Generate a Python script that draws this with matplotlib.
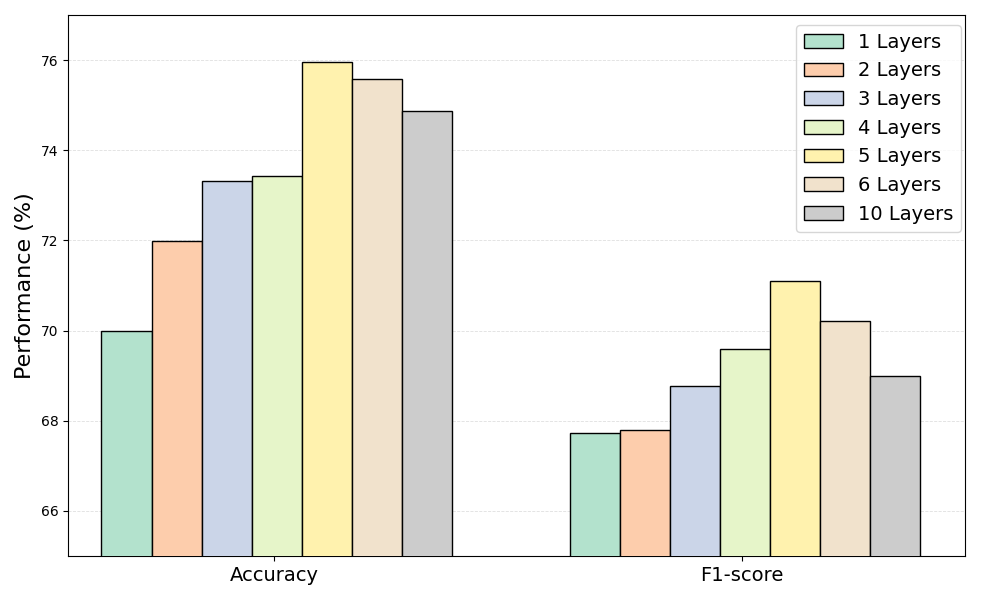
import matplotlib
matplotlib.use('Agg')
import matplotlib.pyplot as plt
import numpy as np

metrics = ['Accuracy', 'F1-score']
layers = ['1 Layers', '2 Layers', '3 Layers', '4 Layers', '5 Layers', '6 Layers', '10 Layers']
accuracy = [69.98, 71.98, 73.31, 73.43, 75.96, 75.58, 74.87]
f1_score = [67.72, 67.80, 68.77, 69.59, 71.11, 70.21, 69.00]
colors = ['#b3e2cd', '#fdcdac', '#cbd5e8', '#e6f5c9', '#fff2ae', '#f1e2cc', '#cccccc']

fig, ax = plt.subplots(figsize=(10, 6), dpi=100)
fig.subplots_adjust(left=0.068, right=0.965, top=0.975, bottom=0.0733)

x = np.arange(len(metrics))
width = 0.107
for i in range(len(layers)):
    vals = [accuracy[i], f1_score[i]]
    ax.bar(x + (i - 3) * width, vals, width, color=colors[i],
           edgecolor='black', linewidth=1, label=layers[i], zorder=3)

ax.set_ylim(65, 77)
ax.set_xlim(-0.446, 1.4705)
ax.set_xticks(x - 0.006)
ax.set_xticklabels(metrics, fontsize=14)
ax.set_yticks([66, 68, 70, 72, 74, 76])
ax.tick_params(axis='y', labelsize=10)
ax.set_ylabel('Performance (%)', fontsize=16)
ax.grid(axis='y', linestyle='--', linewidth=0.6, alpha=0.4, zorder=0)
ax.legend(loc='upper right', fontsize=14, bbox_to_anchor=(1.0067, 1.0))

plt.savefig('out.png')
